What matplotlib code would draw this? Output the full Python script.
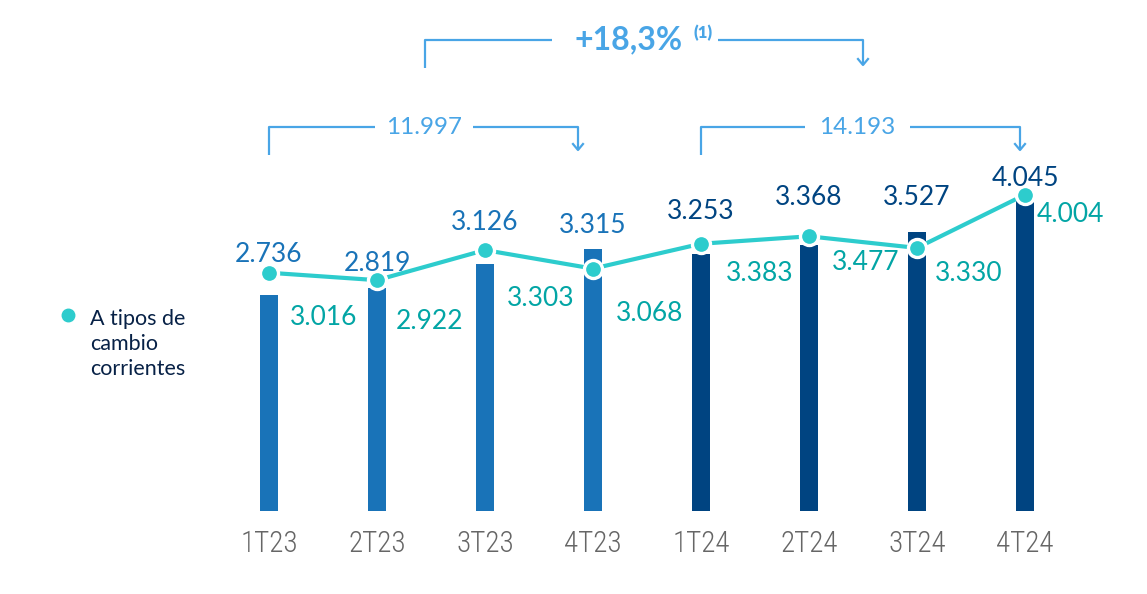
import matplotlib
matplotlib.use("Agg")
import matplotlib.pyplot as plt
from matplotlib.transforms import blended_transform_factory

# ---- data ----
quarters = ["1T23", "2T23", "3T23", "4T23", "1T24", "2T24", "3T24", "4T24"]
bar_values = [2736, 2819, 3126, 3315, 3253, 3368, 3527, 4045]
current_fx = [3016, 2922, 3303, 3068, 3383, 3477, 3330, 4004]
total_2023 = "11.997"
total_2024 = "14.193"
growth_label = "+18,3%"
growth_note = "(1)"
legend_label = "A tipos de\ncambio\ncorrientes"

# ---- style ----
C_LIGHT = "#1973B8"
C_DARK = "#004481"
C_LINE = "#2DCCCD"
C_LINE_TXT = "#02A5A5"
C_BRACKET = "#49A5E6"
C_LEGEND = "#072146"
C_TICK = "#666666"
FONT = ["Lato", "DejaVu Sans"]
TICK_FONT = ["Roboto Condensed", "Liberation Sans Narrow", "DejaVu Sans"]

W, H = 1147, 594
fig = plt.figure(figsize=(W / 100, H / 100), dpi=100)
ax = fig.add_axes([0, 0, 1, 1])
ax.set_axis_off()

x0_px, step_px, base_px, px_per_unit = 269, 108, 511, 0.079
ax.set_xlim(-x0_px / step_px, (W - x0_px) / step_px)
ax.set_ylim(-(H - base_px) / px_per_unit, base_px / px_per_unit)

xs = list(range(len(quarters)))
bar_colors = [C_LIGHT if q.endswith("23") else C_DARK for q in quarters]
ax.bar(xs, bar_values, width=0.17, color=bar_colors, zorder=2)
ax.plot(xs, current_fx, color=C_LINE, lw=3, zorder=3,
        marker="o", markersize=13, markerfacecolor=C_LINE,
        markeredgecolor="white", markeredgewidth=2.4)

# bar value labels (above the higher of bar / marker)
bar_label_dy = [13, 12, 20, 17, 23, 28, 25, 9]
for x, v, fx, c, dy in zip(xs, bar_values, current_fx, bar_colors, bar_label_dy):
    top = max(v, fx)
    ax.annotate(f"{v/1000:.3f}", (x, top), xytext=(0, dy), textcoords="offset points",
                ha="center", va="center", fontsize=19, color=c, family=FONT, zorder=5)

# line labels
line_offsets = [(39, -32.5), (38, -30), (40, -35), (41, -32), (42, -21.5), (41, -19),
                (37, -18.5), (33, -14)]
for x, v, (dx, dy) in zip(xs, current_fx, line_offsets):
    ax.annotate(f"{v/1000:.3f}", (x, v), xytext=(dx, dy), textcoords="offset points",
                ha="center", va="center", fontsize=19, color=C_LINE_TXT, family=FONT, zorder=5)

# x tick labels
trans = blended_transform_factory(ax.transData, ax.transAxes)
def fy(py):
    return 1 - py / H
for x, q in zip(xs, quarters):
    ax.text(x, fy(544), q, transform=trans, ha="center", va="center",
            fontsize=21, color=C_TICK, family=TICK_FONT, fontstretch="condensed",
            fontweight="light")

# brackets
def bracket(xl, xr, y_top, y_left_bottom, y_arrow, label, gap_l, gap_r, xt, **tkw):
    lw = 1.6
    ax.plot([xl, xl, gap_l], [fy(y_left_bottom), fy(y_top), fy(y_top)],
            transform=trans, color=C_BRACKET, lw=lw, solid_capstyle="butt")
    ax.plot([gap_r, xr, xr], [fy(y_top), fy(y_top), fy(y_arrow)],
            transform=trans, color=C_BRACKET, lw=lw, solid_capstyle="butt")
    ah = 5 / step_px
    ax.plot([xr - ah, xr, xr + ah], [fy(y_arrow - 6), fy(y_arrow), fy(y_arrow - 6)],
            transform=trans, color=C_BRACKET, lw=lw)
    ax.text(xt, fy(y_top), label, transform=trans, ha="center", va="center",
            color=C_BRACKET, family=FONT, **tkw)

px = lambda p: (p - x0_px) / step_px
c23 = (xs[0] + xs[3]) / 2
c24 = (xs[4] + xs[7]) / 2
bracket(xs[0], px(578), 127, 155, 150, total_2023, px(375), px(473), px(424), fontsize=17.5)
bracket(xs[4], px(1020), 127, 155, 150, total_2024, px(805), px(910), px(857), fontsize=17.5)
bracket(c23 - 6 / step_px, c24, 40, 68, 65, growth_label, px(552), px(718), px(629),
        fontsize=23, fontweight="bold")
ax.text(px(703), fy(33), growth_note, transform=trans, ha="center", va="center",
        color=C_BRACKET, family=FONT, fontsize=12, fontweight="heavy")

# legend
ax.plot([px(68)], [fy(315)], transform=trans, marker="o", markersize=9,
        color=C_LINE, linestyle="none")
ax.text(px(90), fy(309), legend_label, transform=trans, ha="left", va="top",
        fontsize=15.5, color=C_LEGEND, family=FONT, linespacing=1.3)

fig.savefig("out.png", dpi=100)
